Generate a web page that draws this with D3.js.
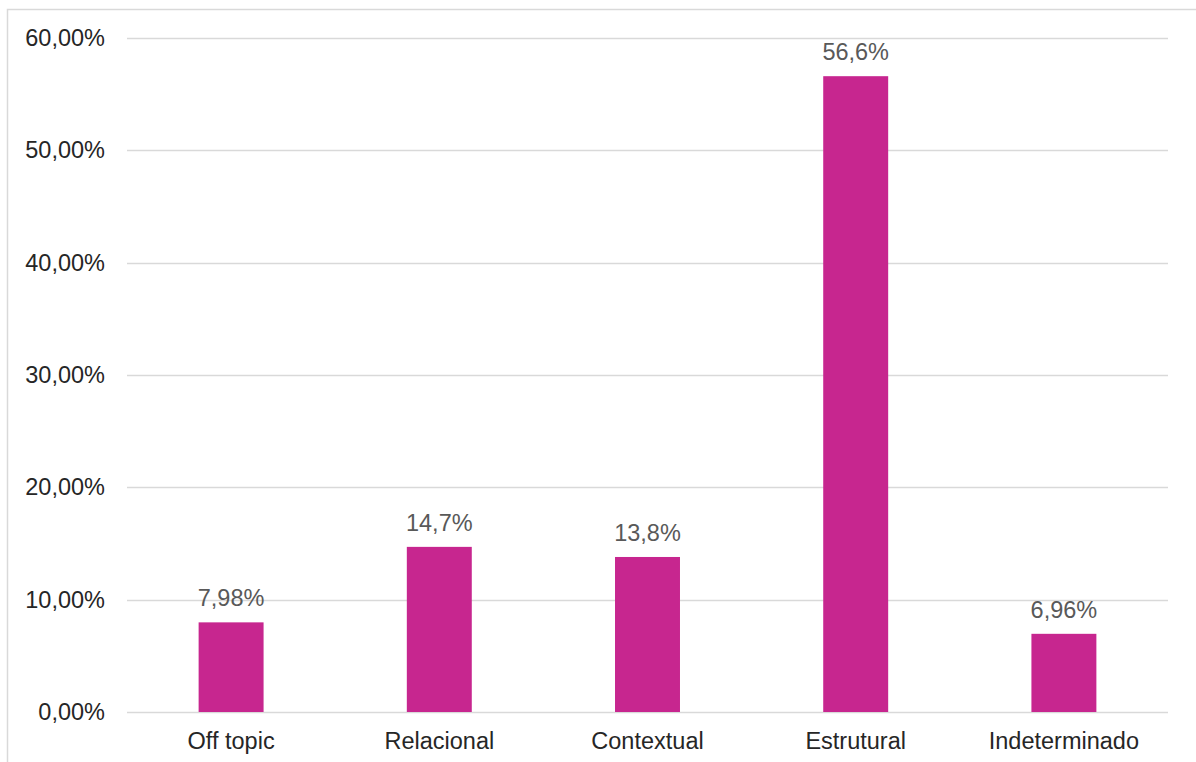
<!DOCTYPE html>
<html>
<head>
<meta charset="utf-8">
<script src="https://cdn.jsdelivr.net/npm/d3@7/dist/d3.min.js"></script>
<style>
  html, body { margin: 0; padding: 0; background: #fff; }
  svg { display: block; font-family: "Liberation Sans", Arial, sans-serif; }
</style>
</head>
<body>
<svg id="chart" width="1196" height="762"></svg>
<script>
// Distribution of categories (percent)
const categories = ["Off topic", "Relacional", "Contextual", "Estrutural", "Indeterminado"];
const values = [7.98, 14.7, 13.8, 56.6, 6.96];
const valueLabels = ["7,98%", "14,7%", "13,8%", "56,6%", "6,96%"];
const yTicks = [0, 10, 20, 30, 40, 50, 60];
const yTickLabels = ["0,00%", "10,00%", "20,00%", "30,00%", "40,00%", "50,00%", "60,00%"];

const svg = d3.select("#chart");
const W = 1196, H = 762;
const margin = { left: 127, right: 28, top: 38, bottom: 50 };
const plotW = W - margin.left - margin.right;
const fontSize = 23.5;

// Outer chart frame
svg.append("rect")
  .attr("x", 7.5).attr("y", 9.5)
  .attr("width", W).attr("height", H)
  .attr("fill", "none").attr("stroke", "#d9d9d9").attr("stroke-width", 1.5);

const x = d3.scaleBand()
  .domain(categories)
  .range([margin.left, margin.left + plotW])
  .paddingInner(0.688)
  .paddingOuter(0.344);

const y = d3.scaleLinear()
  .domain([0, 60])
  .range([712, 38]);

// Horizontal gridlines
const grid = svg.append("g");
grid.selectAll("line")
  .data(yTicks)
  .join("line")
  .attr("x1", margin.left).attr("x2", margin.left + plotW)
  .attr("y1", d => Math.round(y(d)) + 0.5).attr("y2", d => Math.round(y(d)) + 0.5)
  .attr("stroke", "#d9d9d9").attr("stroke-width", 1.3);

// Y axis labels
const yAxis = d3.axisLeft(y)
  .tickValues(yTicks)
  .tickFormat((d, i) => yTickLabels[i])
  .tickSize(0)
  .tickPadding(22);
const gy = svg.append("g")
  .attr("transform", `translate(${margin.left},0)`)
  .call(yAxis);
gy.select(".domain").remove();
gy.selectAll("text")
  .attr("font-size", fontSize)
  .attr("fill", "#262626")
  .attr("font-family", "'Liberation Sans', Arial, sans-serif");

// Bars
svg.append("g").selectAll("rect")
  .data(values)
  .join("rect")
  .attr("x", (d, i) => x(categories[i]))
  .attr("y", d => y(d))
  .attr("width", x.bandwidth())
  .attr("height", d => y(0) - y(d))
  .attr("fill", "#c7268f");

// Value labels
svg.append("g").selectAll("text")
  .data(values)
  .join("text")
  .attr("x", (d, i) => x(categories[i]) + x.bandwidth() / 2)
  .attr("y", d => y(d) - 16)
  .attr("text-anchor", "middle")
  .attr("font-size", fontSize)
  .attr("fill", "#595959")
  .text((d, i) => valueLabels[i]);

// X axis category labels
const xAxis = d3.axisBottom(x).tickSize(0).tickPadding(20);
const gx = svg.append("g")
  .attr("transform", `translate(0,${y(0)})`)
  .call(xAxis);
gx.select(".domain").remove();
gx.selectAll("text")
  .attr("font-size", fontSize)
  .attr("fill", "#262626")
  .attr("font-family", "'Liberation Sans', Arial, sans-serif");
</script>
</body>
</html>
